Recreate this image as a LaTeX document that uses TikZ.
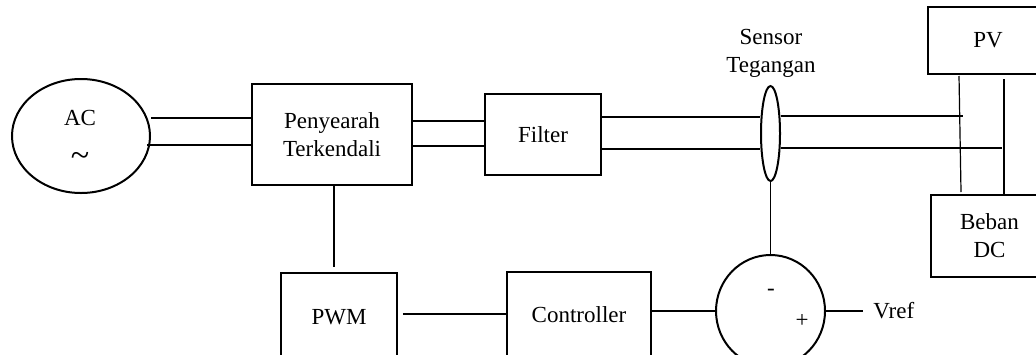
\documentclass[tikz,border=0pt]{standalone}
\usepackage{fontspec}
\setmainfont{Liberation Serif}
\usetikzlibrary{shapes.geometric,calc}
\begin{document}
\begin{tikzpicture}[x=0.5pt,y=-0.5pt,
  blk/.style={draw, line width=0.9pt, inner sep=0pt, align=center, font=\fontsize{11.5}{14}\selectfont},
  ell/.style={draw, ellipse, line width=1pt, inner sep=0pt},
  wire/.style={line width=0.6pt},
  lbl/.style={inner sep=0pt, align=center, font=\fontsize{11.5}{14}\selectfont}]
\clip (0,0) rectangle (1036,354);
\fill[white] (0,0) rectangle (1036,354);
% blocks
\node[ell, minimum width=69pt, minimum height=57pt] (ac) at (81,136) {};
\node[lbl] (actxt) at (80,118) {AC};
\node[lbl, font=\fontsize{17}{17}\selectfont] (tilde) at (80,159) {\textasciitilde};
\node[blk, minimum width=80pt, minimum height=50.5pt] (pen) at (332,134.5) {Penyearah\\Terkendali};
\node[blk, minimum width=58pt, minimum height=40.5pt] (fil) at (543,134.5) {Filter};
\node[ell, minimum width=9.5pt, minimum height=47.5pt] (sen) at (770.5,133.5) {};
\node[lbl] (sentxt) at (771,53) {Sensor\\Tegangan};
\node[blk, minimum width=60pt, minimum height=33.5pt] (pv) at (988,40.5) {PV};
\node[blk, minimum width=58.5pt, minimum height=41pt] (beban) at (989.5,236) {Beban\\DC};
\node[blk, minimum width=58pt, minimum height=44pt] (pwm) at (339,317) {PWM};
\node[blk, minimum width=72pt, minimum height=43pt] (ctrl) at (579,315) {Controller};
\node[ell, minimum width=54.5pt, minimum height=56pt] (sum) at (770.5,311) {};
\node[lbl] (minus) at (771,292) {-};
\node[lbl] (plus) at (802,321) {+};
\node[lbl, anchor=west] (vref) at (873,311) {Vref};
% helper coordinates
\coordinate (yA) at (0,118);
\coordinate (yB) at (0,145);
\coordinate (yC) at (0,121);
\coordinate (yD) at (0,146);
\coordinate (yE) at (0,117);
\coordinate (yF) at (0,149);
\coordinate (yP) at (0,314);
\coordinate (yS) at (0,311);
\coordinate (xV) at (334,0);
\coordinate (endU) at (963,116);
\coordinate (endL) at (1002,148);
\coordinate (pvL) at (959,76);
\coordinate (bL) at (961,192);
\coordinate (pvR) at (1004,79);
\coordinate (bR) at (1004,194);
% connectors
\draw[wire] (ac.east |- yA) -- (pen.west |- yA);
\draw[wire] ([xshift=-2pt]ac.east |- yB) -- (pen.west |- yB);
\draw[wire] (pen.east |- yC) -- (fil.west |- yC);
\draw[wire] (pen.east |- yD) -- (fil.west |- yD);
\draw[wire] (fil.east |- yE) -- (sen.west |- yE);
\draw[wire] (fil.east |- yF) -- (sen.west |- yF);
\draw[wire] (sen.east |- endU) -- (endU);
\draw[wire] (sen.east |- endL) -- (endL);
\draw[wire] (pvL) -- (bL);
\draw[wire] (pvR) -- (bR);
\draw[wire] (sen.south) -- (sum.north);
\draw[wire, shorten >=2.5pt] (pen.south -| xV) -- (pwm.north -| xV);
\draw[wire, shorten <=2.5pt] (pwm.east |- yP) -- (ctrl.west |- yP);
\draw[wire] (ctrl.east |- yS) -- (sum.west);
\draw[wire, shorten >=5pt] (sum.east) -- (vref.west);
\end{tikzpicture}
\end{document}
